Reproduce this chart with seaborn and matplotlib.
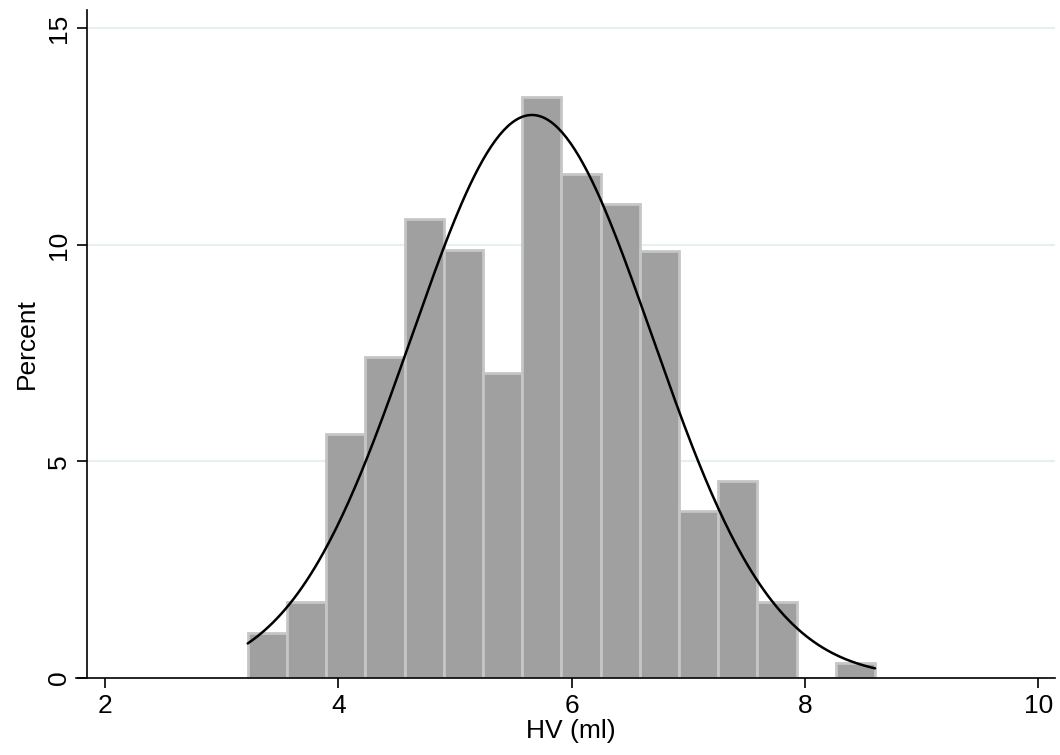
import numpy as np
import pandas as pd
import matplotlib
matplotlib.use('Agg')
import matplotlib.pyplot as plt
import seaborn as sns

# Данные гистограммы (проценты по интервалам)
bin_start = 3.224
bin_width = 0.336
percent = [1.05, 1.75, 5.63, 7.42, 10.59, 9.88, 7.05, 13.41,
           11.64, 10.94, 9.87, 3.85, 4.55, 1.75, 0.0, 0.35]
# Параметры нормальной кривой
hv_mean = 5.66
hv_sd = 1.031

edges = bin_start + bin_width * np.arange(len(percent) + 1)
centers = (edges[:-1] + edges[1:]) / 2
df = pd.DataFrame({'hv': centers, 'pct': percent})

xs = np.linspace(edges[0], edges[-1], 300)
ys = 100 * bin_width * np.exp(-0.5 * ((xs - hv_mean) / hv_sd) ** 2) / (hv_sd * np.sqrt(2 * np.pi))

sns.set_style('white')
plt.rcParams['font.family'] = ['Liberation Sans', 'DejaVu Sans']
plt.rcParams['text.color'] = 'black'
plt.rcParams['axes.labelcolor'] = 'black'
plt.rcParams['xtick.color'] = 'black'
plt.rcParams['ytick.color'] = 'black'

fig = plt.figure(figsize=(10.6, 7.55), dpi=100)
ax = fig.add_axes([0.082, 0.102, 0.913, 0.885])

sns.histplot(data=df, x='hv', weights='pct', bins=list(edges), color='#a0a0a0',
             edgecolor='#c6c6c6', linewidth=2, alpha=1, ax=ax, zorder=2)
sns.lineplot(x=xs, y=ys, color='black', linewidth=1.8, ax=ax, zorder=3)

ax.set_xlim(1.846, 10.14)
ax.set_ylim(0, 15.43)
ax.set_xticks([2, 4, 6, 8, 10])
ax.set_yticks([0, 5, 10, 15])
ax.set_yticklabels(['0', '5', '10', '15'], rotation=90, va='center')
ax.tick_params(axis='both', direction='out', length=7.5, width=1.2, color='black',
               labelsize=19, labelcolor='black', pad=4, left=True, bottom=True)
for y in [5, 10, 15]:
    ax.axhline(y, color='#e6eff1', linewidth=1.5, zorder=0)

sns.despine(ax=ax)
for s in ['left', 'bottom']:
    ax.spines[s].set_color('black')
    ax.spines[s].set_linewidth(1.2)
ax.spines['bottom'].set_bounds(1.75, 10.14)
ax.spines['bottom'].set_clip_on(False)

ax.set_xlabel('HV (ml)', fontsize=19, labelpad=1)
ax.set_ylabel('Percent', fontsize=19, labelpad=6)

fig.savefig('out.png', dpi=100)
